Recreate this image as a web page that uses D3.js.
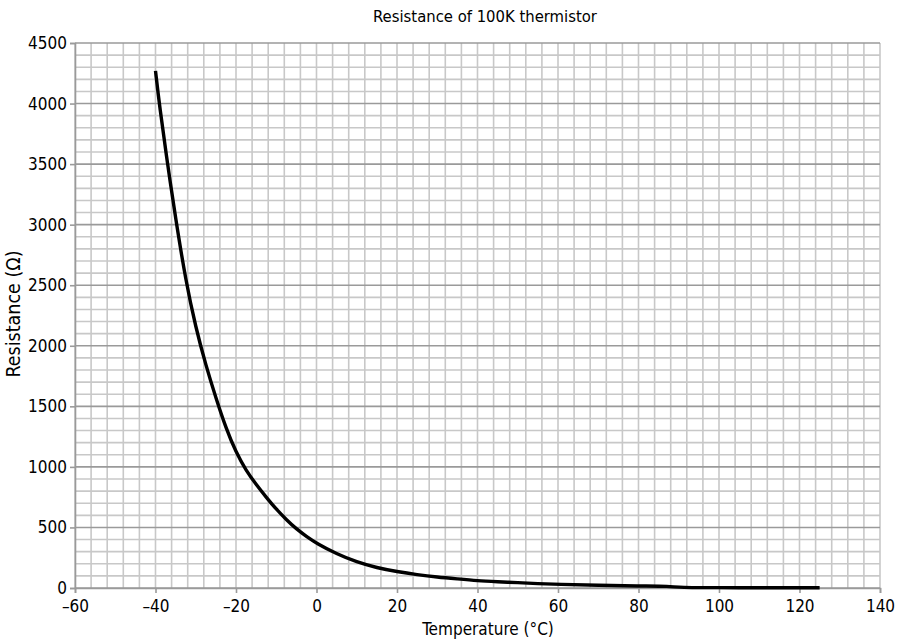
<!DOCTYPE html>
<html>
<head>
<meta charset="utf-8">
<script src="https://cdn.jsdelivr.net/npm/d3@7"></script>
<style>
  body { margin: 0; background: #fff; }
  svg { display: block; }
  text { font-family: "Liberation Sans Narrow", "DejaVu Sans Condensed", sans-serif; fill: #000; }
</style>
</head>
<body>
<div id="chart"></div>
<script>
// temperature (°C) and resistance readings
var temps = [-40, -39, -37, -35, -32.5, -30, -27.5, -25, -22.5, -20, -17.5, -15, -12.5, -10, -7.5, -5, -2.5, 0, 5, 10, 15, 20, 25, 30, 35, 40, 45, 50, 55, 60, 70, 80, 88, 90, 100, 110, 120, 125];
var resistance = [4270, 3980, 3500, 3050, 2540, 2150, 1840, 1570, 1320, 1120, 970, 855, 750, 650, 565, 487, 426, 369, 282, 214, 167, 135, 110, 90, 75, 60, 52, 44, 36, 30, 22, 16, 15, 3, 3, 2, 2, 2];
var xTicks = [-60, -40, -20, 0, 20, 40, 60, 80, 100, 120, 140];
var yTicks = [0, 500, 1000, 1500, 2000, 2500, 3000, 3500, 4000, 4500];

var width = 898, height = 639;
var margin = { top: 43, right: 18, bottom: 51, left: 75 };
var fontStack = '"Liberation Sans Narrow", "DejaVu Sans Condensed", sans-serif';

var svg = d3.select('#chart')
    .append('svg')
    .attr('width', width)
    .attr('height', height);

var x = d3.scaleLinear()
    .domain([-60, 140])
    .range([margin.left, width - margin.right]);

var y = d3.scaleLinear()
    .domain([0, 4500])
    .range([height - margin.bottom, margin.top]);

var g = svg.append('g');

// minor grid, 4 °C by 100 ohm
g.selectAll('.vgrid')
    .data(d3.range(-60, 141, 4))
    .enter().append('line')
    .attr('x1', d => x(d)).attr('x2', d => x(d))
    .attr('y1', y(0)).attr('y2', y(4500))
    .attr('stroke', '#c8c8c8')
    .attr('stroke-width', 1.6);

g.selectAll('.hgrid')
    .data(d3.range(0, 4501, 100))
    .enter().append('line')
    .attr('x1', x(-60)).attr('x2', x(140))
    .attr('y1', d => y(d)).attr('y2', d => y(d))
    .attr('stroke', d => d % 500 === 0 ? '#9a9a9a' : '#c8c8c8')
    .attr('stroke-width', 1.6);

// axes
var xAxis = d3.axisBottom(x)
    .tickValues(xTicks)
    .tickSize(5)
    .tickFormat(d => d < 0 ? '\u2013' + Math.abs(d) : d);

var yAxis = d3.axisLeft(y)
    .tickValues(yTicks)
    .tickSize(5)
    .tickFormat(d => d);

var gx = svg.append('g')
    .attr('transform', 'translate(0,' + y(0) + ')')
    .call(xAxis);
gx.select('.domain').attr('stroke', '#9a9a9a').attr('stroke-width', 1.6);
gx.selectAll('.tick line').attr('stroke', '#9a9a9a').attr('stroke-width', 1.6);
gx.selectAll('.tick text')
    .attr('font-size', 17)
    .attr('dy', '0.95em')
    .style('font-family', fontStack);

var gy = svg.append('g')
    .attr('transform', 'translate(' + x(-60) + ',0)')
    .call(yAxis);
gy.select('.domain').attr('stroke', '#9a9a9a').attr('stroke-width', 1.6);
gy.selectAll('.tick line').attr('stroke', '#9a9a9a').attr('stroke-width', 1.6);
gy.selectAll('.tick text')
    .attr('font-size', 17)
    .attr('x', -8)
    .style('font-family', fontStack);

// curve
var line = d3.line()
    .x((d, i) => x(temps[i]))
    .y(d => y(d))
    .curve(d3.curveBasis);

svg.append('path')
    .datum(resistance)
    .attr('fill', 'none')
    .attr('stroke', '#000')
    .attr('stroke-width', 3.4)
    .attr('d', line);

// labels
svg.append('text')
    .attr('x', 485)
    .attr('y', 22)
    .attr('text-anchor', 'middle')
    .attr('font-size', 16.5)
    .text('Resistance of 100K thermistor');

svg.append('text')
    .attr('x', 488)
    .attr('y', 635)
    .attr('text-anchor', 'middle')
    .attr('font-size', 17)
    .text('Temperature (°C)');

svg.append('text')
    .attr('transform', 'translate(20,' + 314 + ') rotate(-90)')
    .attr('text-anchor', 'middle')
    .attr('font-size', 19.5)
    .text('Resistance (\u03A9)');
</script>
</body>
</html>
